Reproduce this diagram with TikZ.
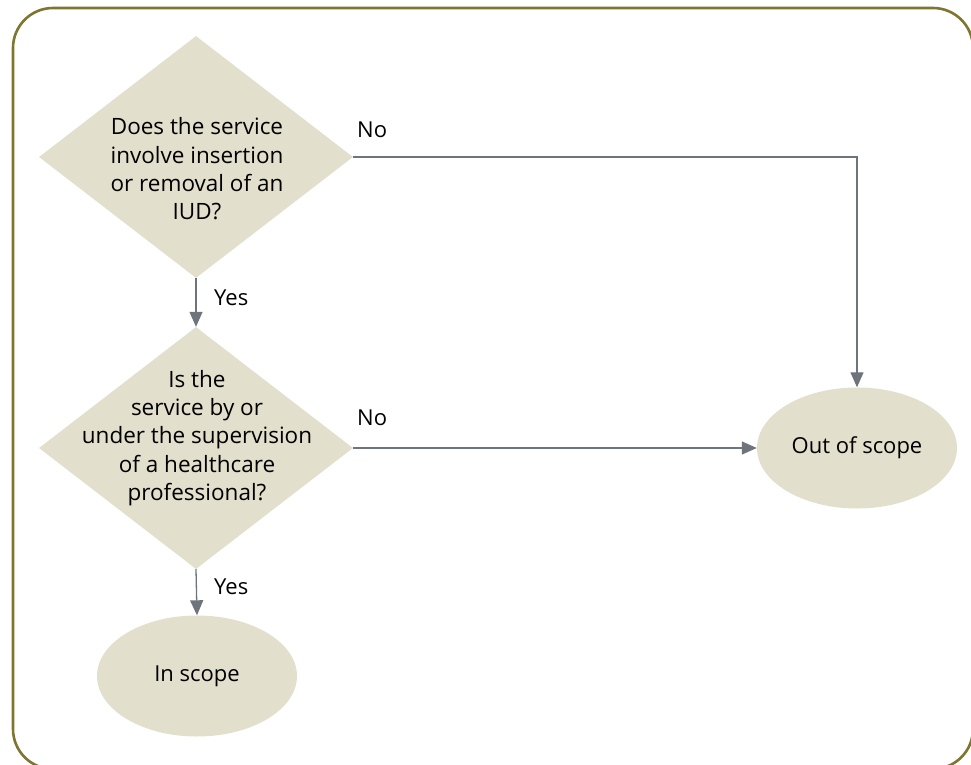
\documentclass[tikz,border=0pt]{standalone}
\usepackage{fontspec}
\setmainfont{Open Sans}
\usetikzlibrary{shapes.geometric,arrows.meta}
\definecolor{frameol}{HTML}{7E7530}
\definecolor{shapefill}{HTML}{E2DFCC}
\definecolor{arrgray}{HTML}{6E747B}
\tikzset{
  dia/.style={diamond, fill=shapefill, draw=none, inner sep=0pt, minimum width=314pt, minimum height=242pt},
  oval/.style={ellipse, fill=shapefill, draw=none, inner sep=0pt, minimum width=200pt, minimum height=121pt, font=\fontsize{22}{28}\selectfont},
  qtext/.style={align=center, font=\fontsize{22.5}{28.3}\selectfont, inner sep=0pt},
  lbl/.style={font=\fontsize{22}{28}\selectfont, inner sep=0pt, anchor=west},
  arr/.style={draw=arrgray, line width=1.3pt, -{Triangle[length=15pt,width=13pt]}},
  frame/.style={draw=frameol, line width=2.6pt, rounded corners=40pt}
}
\begin{document}
\begin{tikzpicture}[x=1pt,y=-1pt]
\useasboundingbox (0,0) rectangle (971,765);
\clip (0,0) rectangle (971,765);
\draw[frame] (13,8) rectangle (973,769);
\node[dia] (d1) at (196,157) {};
\node[qtext] (t1) at (197,169) {Does the service\\involve insertion\\or removal of an\\IUD?};
\node[dia] (d2) at (196,448) {};
\node[qtext] (t2) at (197,438) {Is the\\service by or\\under the supervision\\of a healthcare\\professional?};
\node[oval] (in) at (197,676) {In scope};
\node[oval] (out) at (857,448) {Out of scope};
\draw[arr] (d1.south) -- (d2.north);
\draw[arr] (d2.south) -- (in.north);
\draw[arr] (d1.east) -| (out.north);
\draw[arr] (d2.east) -- (out.west);
\node[lbl] (no1) at (357,130) {No};
\node[lbl] (no2) at (357,418) {No};
\node[lbl] (yes1) at (214,298) {Yes};
\node[lbl] (yes2) at (214,587) {Yes};
\end{tikzpicture}
\end{document}
